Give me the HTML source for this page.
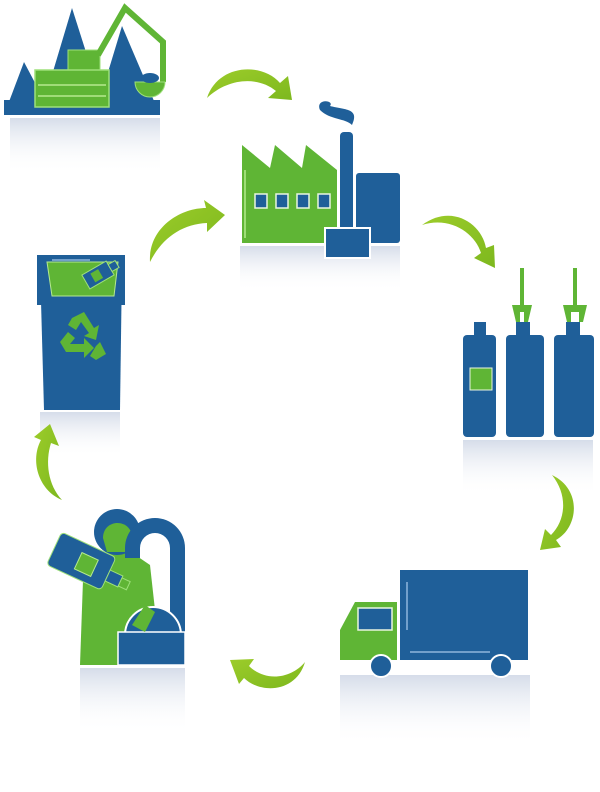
<!DOCTYPE html>
<html><head><style>html,body{margin:0;padding:0;background:#fff}svg{display:block}</style></head>
<body>
<svg width="600" height="792" viewBox="0 0 600 792" xmlns="http://www.w3.org/2000/svg">
<defs>
<linearGradient id="rf" x1="0" y1="0" x2="0" y2="1">
<stop offset="0" stop-color="#c4cee0" stop-opacity="0.7"/><stop offset="1" stop-color="#ffffff" stop-opacity="0"/>
</linearGradient>
<linearGradient id="ag" x1="0" y1="0" x2="1" y2="1">
<stop offset="0" stop-color="#9ccc2a"/><stop offset="1" stop-color="#7db81e"/>
</linearGradient>
</defs>
<rect width="600" height="792" fill="#fff"/>

<!-- reflections -->
<rect x="10" y="118" width="150" height="55" fill="url(#rf)"/>
<rect x="240" y="246" width="160" height="45" fill="url(#rf)"/>
<rect x="463" y="440" width="130" height="55" fill="url(#rf)"/>
<rect x="340" y="675" width="190" height="70" fill="url(#rf)"/>
<rect x="80" y="668" width="105" height="65" fill="url(#rf)"/>
<rect x="40" y="412" width="80" height="45" fill="url(#rf)"/>

<!-- mining -->
<polygon points="4,115 24,62 52,115" fill="#1f5f99"/>
<polygon points="40,115 72,8 106,115" fill="#1f5f99"/>
<polygon points="95,115 122,26 160,115" fill="#1f5f99"/>
<rect x="4" y="100" width="156" height="15" fill="#1f5f99"/>
<rect x="68" y="50" width="32" height="22" fill="#5fb535" stroke="#9ee07a" stroke-width="1"/>
<rect x="35" y="70" width="74" height="37" fill="#5fb535" stroke="#9ee07a" stroke-width="1.5"/>
<line x1="38" y1="85" x2="106" y2="85" stroke="#b5ea8f" stroke-width="1.5"/>
<line x1="38" y1="96" x2="106" y2="96" stroke="#b5ea8f" stroke-width="1.5"/>
<polyline points="98,55 125,8 163,42 163,82" fill="none" stroke="#5fb535" stroke-width="6"/>
<path d="M135,82 A15,15 0 0 0 165,82 Z" fill="#5fb535" stroke="#9ee07a"/>
<ellipse cx="150" cy="78" rx="9" ry="5" fill="#1f5f99"/>

<!-- arrows -->
<g fill="url(#ag)">
<path d="M207,98 C218,64 262,62 280,83 L288,76 L292,100 L268,98 L276,91 C258,76 228,78 207,98Z"/>
<path d="M150,262 C148,228 180,208 206,208 L204,200 L225,215 L207,232 L207,223 C182,224 162,238 150,262Z"/>
<path d="M422,225 C452,203 482,224 486,248 L494,245 L495,268 L474,258 L481,253 C475,233 450,216 422,225Z"/>
<path d="M552,475 C583,490 578,528 556,540 L561,547 L540,550 L545,529 L551,535 C566,520 568,495 552,475Z"/>
<path d="M305,662 C296,693 260,694 244,678 L239,684 L230,660 L254,659 L249,666 C265,682 291,679 305,662Z"/>
<path d="M62,500 C38,490 30,460 41,440 L34,437 L50,424 L59,446 L51,443 C45,462 48,485 62,500Z"/>
</g>

<!-- factory -->
<path d="M320,110 C315,98 335,100 330,106 C345,110 360,108 352,125 C345,118 330,120 320,110Z" fill="#1f5f99"/>
<path d="M242,243 L242,145 L270,168 L275,145 L302,168 L306,145 L337,170 L337,243Z" fill="#5fb535"/>
<line x1="245" y1="170" x2="245" y2="238" stroke="#b5ea8f" stroke-width="1.5"/>
<g fill="#1f5f99" stroke="#e8f5e0" stroke-width="1.5">
<rect x="255" y="194" width="12" height="14"/><rect x="276" y="194" width="12" height="14"/><rect x="297" y="194" width="12" height="14"/><rect x="318" y="194" width="12" height="14"/>
</g>
<rect x="340" y="132" width="13" height="105" rx="4" fill="#1f5f99"/>
<rect x="356" y="173" width="44" height="70" rx="3" fill="#1f5f99"/>
<rect x="325" y="228" width="45" height="30" fill="#1f5f99" stroke="#fff" stroke-width="2"/>

<!-- bottles -->
<g fill="#5fb535">
<rect x="520" y="268" width="4" height="38"/><path d="M512,305 L532,305 L528,322 L524,322 L524,312 L520,312 L520,322 L516,322Z"/>
<rect x="573" y="268" width="4" height="38"/><path d="M563,305 L587,305 L583,322 L579,322 L579,312 L571,312 L571,322 L567,322Z"/>
</g>
<g fill="#1f5f99">
<rect x="474" y="322" width="12" height="14"/><rect x="463" y="335" width="33" height="102" rx="4"/>
<rect x="516" y="322" width="14" height="14"/><rect x="506" y="335" width="38" height="102" rx="4"/>
<rect x="566" y="322" width="14" height="14"/><rect x="554" y="335" width="40" height="102" rx="4"/>
</g>
<rect x="470" y="368" width="22" height="22" fill="#5fb535" stroke="#e8f5e0"/>

<!-- truck -->
<rect x="400" y="570" width="128" height="90" fill="#1f5f99"/>
<line x1="407" y1="582" x2="407" y2="630" stroke="#8fb6dc" stroke-width="1.5"/>
<line x1="410" y1="652" x2="490" y2="652" stroke="#8fb6dc" stroke-width="1.5"/>
<path d="M340,660 L340,630 L355,602 L397,602 L397,660Z" fill="#5fb535"/>
<rect x="358" y="608" width="34" height="22" fill="#1f5f99" stroke="#e8f5e0" stroke-width="1.5"/>
<circle cx="381" cy="666" r="11" fill="#1f5f99" stroke="#fff" stroke-width="2"/>
<circle cx="501" cy="666" r="11" fill="#1f5f99" stroke="#fff" stroke-width="2"/>

<!-- person -->
<path d="M80,665 L83,580 L92,560 L108,550 L128,550 L150,565 L155,610 L160,665Z" fill="#5fb535"/>
<circle cx="117" cy="532" r="23" fill="#1f5f99"/>
<path d="M103,538 C103,518 132,518 132,538 L128,552 L107,552Z" fill="#5fb535"/>
<path d="M125,558 L125,548 A30,30 0 0 1 185,548 L185,665 L170,665 L170,548 A15,15 0 0 0 140,548 L140,558Z" fill="#1f5f99"/>
<g transform="translate(85,565) rotate(25)">
<rect x="-35" y="-20" width="60" height="36" rx="4" fill="#1f5f99" stroke="#9ee07a"/>
<rect x="-8" y="-10" width="18" height="18" fill="#5fb535" stroke="#b5ea8f"/>
<rect x="25" y="-6" width="14" height="12" fill="#1f5f99" stroke="#9ee07a"/>
<rect x="39" y="-4" width="9" height="9" fill="#5fb535" stroke="#9ee07a"/>
</g>
<path d="M125,635 A28,28 0 0 1 181,635Z" fill="#1f5f99" stroke="#fff" stroke-width="2"/>
<rect x="118" y="632" width="67" height="33" fill="#1f5f99" stroke="#fff" stroke-width="1.5"/>
<path d="M132,625 L145,605 L155,612 L145,632Z" fill="#5fb535"/>

<!-- bin -->
<path d="M40,265 L122,265 L120,410 L44,410Z" fill="#1f5f99"/>
<rect x="37" y="255" width="88" height="50" fill="#1f5f99"/>
<path d="M47,262 L118,262 L114,296 L52,296Z" fill="#5fb535" stroke="#b5ea8f"/>
<g transform="translate(98,275) rotate(-30)"><rect x="-14" y="-8" width="28" height="16" fill="#1f5f99" stroke="#9ee07a"/><rect x="-6" y="-5" width="9" height="10" fill="#5fb535"/><rect x="14" y="-4" width="8" height="8" fill="#1f5f99" stroke="#9ee07a"/></g>
<line x1="52" y1="260" x2="90" y2="260" stroke="#8fb6dc" stroke-width="1.5"/>
<g fill="#5fb535">
<path d="M72,318 L84,312 L94,328 L99,325 L96,340 L84,336 L89,333 L81,322 L76,330 L68,325Z"/>
<path d="M60,342 L68,332 L75,338 L70,344 L84,344 L84,338 L94,348 L84,358 L84,352 L66,352Z"/>
<path d="M100,342 L106,354 L96,360 L90,356 L96,346Z"/>
</g>
</svg>
</body></html>
